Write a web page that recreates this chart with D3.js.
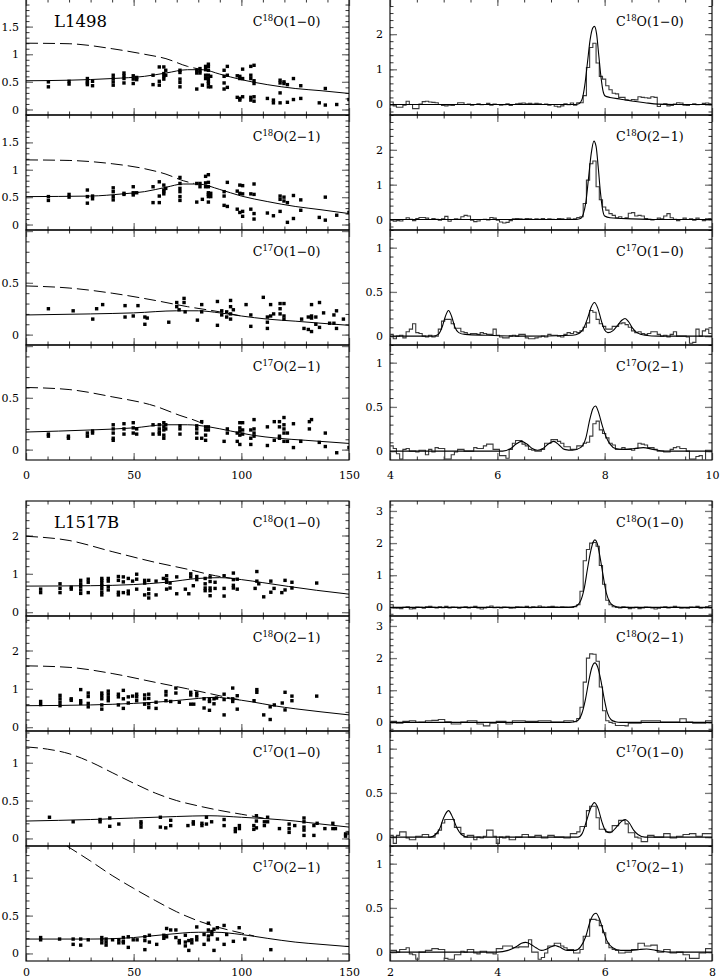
<!DOCTYPE html>
<html><head><meta charset="utf-8">
<script src="https://cdn.jsdelivr.net/npm/d3@7"></script>
<style>
body{margin:0;background:#fff}
svg{display:block}
text{font-family:"DejaVu Serif",serif;fill:#000}
</style></head><body>
<svg id="c" width="721" height="980"></svg>
<script>
// ---------------- DATA ----------------
// radial offset (arcsec) vs integrated intensity (K km/s)
const L1498_C18O10_obs = [[10.4,0.50],[10.4,0.41],[20,0.51],[20,0.46],[28.5,0.56],[28.5,0.51],[28.5,0.48],[28.5,0.45],[30.9,0.51],[30.9,0.43],
[40.5,0.62],[40.5,0.56],[40.5,0.50],[40.5,0.44],[45.5,0.66],[45.5,0.61],[45.5,0.56],[45.5,0.48],[49.8,0.61],[49.8,0.55],[49.8,0.47],[51.4,0.58],[51.4,0.54],
[59,0.62],[59,0.45],[61.9,0.77],[61.9,0.51],[61.9,0.44],[64,0.77],[64,0.65],[64,0.60],[64,0.55],[64.9,0.71],[64.9,0.62],
[71.5,0.71],[71.5,0.67],[71.5,0.55],[71.5,0.49],[71.5,0.41],[79.3,0.71],[79.3,0.66],[79.3,0.37],[80.8,0.74],[80.8,0.70],[80.8,0.66],[81.9,0.44],
[83.4,0.78],[83.4,0.72],[83.4,0.62],[83.4,0.56],[84.7,0.82],[84.7,0.78],[84.7,0.71],[84.7,0.62],[84.7,0.56],[84.7,0.51],[84.7,0.47],[84.7,0.41],[85.8,0.60],[85.8,0.41],
[92,0.71],[92,0.60],[92,0.48],[92,0.37],[93.5,0.78],[93.5,0.62],[93.5,0.40],[98.1,0.61],[98.1,0.22],[99.3,0.60],[99.3,0.56],[99.3,0.20],[99.3,0.17],[100.6,0.73],[100.6,0.56],[100.6,0.23],
[104.4,0.78],[104.4,0.62],[104.4,0.56],[104.4,0.22],[104.4,0.17],[105.9,0.80],[105.9,0.52],[105.9,0.47],[105.9,0.23],[105.9,0.15],
[112.1,0.20],[114.9,0.17],[114.9,0.12],[118,0.53],[118,0.48],[118,0.30],[118,0.12],[119.8,0.50],[119.8,0.47],[121.4,0.45],[121.4,0.13],
[124.2,0.56],[124.2,0.18],[127.6,0.43],[127.6,0.20],[136.2,0.12],[139,0.38],[139,0.08],[144.3,0.09],[150,0.18]];
const L1498_C18O10_fit = [[0,0.52],[20,0.53],[40,0.56],[55,0.60],[65,0.66],[75,0.72],[82,0.72],[90,0.64],[100,0.54],[112,0.45],[125,0.38],[137,0.34],[150,0.29]];
const L1498_C18O10_dash = [[0,1.2],[20,1.19],[40,1.1],[55,1.0],[65,0.92],[75,0.78],[82,0.72]];

const L1498_C18O21_obs = [[10.4,0.51],[10.4,0.44],[20,0.55],[20,0.50],[28.5,0.63],[28.5,0.51],[28.5,0.39],[30.9,0.52],[30.9,0.47],
[40.5,0.67],[40.5,0.60],[40.5,0.51],[40.5,0.45],[45.5,0.57],[45.5,0.55],[49.8,0.69],[49.8,0.58],[49.8,0.54],[51.4,0.58],
[59,0.69],[59,0.40],[61.9,0.78],[61.9,0.52],[61.9,0.40],[64,0.72],[64,0.63],[64,0.60],[64,0.56],[64.9,0.66],
[71.5,0.86],[71.5,0.75],[71.5,0.66],[71.5,0.60],[71.5,0.51],[71.5,0.44],[79.3,0.75],[79.3,0.41],[80.8,0.75],[80.8,0.69],[81.9,0.46],
[83.4,0.88],[83.4,0.76],[83.4,0.69],[84.7,0.91],[84.7,0.77],[84.7,0.69],[84.7,0.58],[84.7,0.55],[84.7,0.51],[84.7,0.41],[85.8,0.57],[85.8,0.51],
[92,0.60],[92,0.52],[92,0.35],[93.5,0.77],[93.5,0.33],[98.1,0.61],[98.1,0.28],[99.3,0.72],[99.3,0.57],[99.3,0.22],[100.6,0.71],[100.6,0.56],[100.6,0.24],[100.6,0.15],
[104.4,0.56],[104.4,0.28],[105.9,0.74],[105.9,0.55],[105.9,0.20],[105.9,0.10],
[112.1,0.21],[114.9,0.16],[118,0.52],[118,0.46],[118,0.24],[119.8,0.50],[119.8,0.43],[121.4,0.40],[121.4,0.04],
[124.2,0.53],[124.2,0.11],[127.6,0.26],[127.6,0.45],[136.2,0.13],[139,0.50],[139,0.08],[144.3,0.17],[150,0.22]];
const L1498_C18O21_fit = [[0,0.51],[30,0.52],[45,0.56],[55,0.60],[65,0.68],[73,0.74],[80,0.74],[90,0.64],[100,0.52],[112,0.42],[125,0.33],[137,0.27],[150,0.20]];
const L1498_C18O21_dash = [[0,1.18],[20,1.17],[40,1.11],[55,1.02],[65,0.92],[73,0.80],[78,0.75]];

const L1498_C17O10_obs = [[10.4,0.25],[21.9,0.23],[31,0.15],[32.8,0.25],[35.6,0.29],[46,0.28],[46,0.17],[49.8,0.18],[52,0.28],[55.2,0.17],[55.2,0.10],[56.3,0.16],
[66.3,0.12],[70,0.27],[70,0.31],[71.1,0.24],[73.4,0.31],[73.4,0.35],[73.9,0.22],[79.6,0.14],[81.6,0.29],[81.6,0.22],
[88.9,0.32],[88.9,0.09],[90.9,0.23],[90.9,0.19],[93.2,0.17],[93.2,0.22],[95,0.33],[95,0.27],[95,0.15],[95,0.20],[96.3,0.24],
[102.2,0.29],[104.4,0.08],[104.4,0.19],[110.2,0.36],[112.1,0.17],[112.1,0.06],[112.1,0.12],[113.6,0.29],[113.6,0.18],[115,0.20],
[118,0.25],[118,0.30],[118,0.20],[119.8,0.30],[119.8,0.18],[119.8,0.15],[128,0.15],[129.1,0.06],[131.1,0.05],[131.1,0.17],
[132.6,0.29],[132.6,0.18],[132.6,0.16],[132.6,0.03],[134.6,0.17],[134.6,0.10],[136.3,0.07],[136.3,0.31],[138.2,0.21],
[141,0.11],[143,0.19],[143,0.11],[144.2,0.23],[144.2,0.06],[147.4,0.15]];
const L1498_C17O10_fit = [[0,0.19],[30,0.20],[50,0.21],[70,0.23],[80,0.23],[90,0.21],[100,0.18],[112,0.15],[125,0.13],[137,0.11],[150,0.09]];
const L1498_C17O10_dash = [[0,0.47],[20,0.45],[40,0.40],[60,0.33],[75,0.27],[90,0.22],[100,0.18]];

const L1498_C17O21_obs = [[10.4,0.15],[10.4,0.13],[19.7,0.13],[19.7,0.11],[28.5,0.16],[28.5,0.13],[30.9,0.18],[30.9,0.16],
[40.5,0.24],[40.5,0.20],[40.5,0.16],[40.5,0.11],[40.5,0.09],[45.5,0.25],[45.5,0.20],[45.5,0.15],[49.8,0.26],[49.8,0.21],[49.8,0.16],[51.4,0.20],[51.4,0.15],
[59,0.24],[59,0.15],[61.9,0.24],[61.9,0.20],[61.9,0.17],[61.9,0.15],[64,0.26],[64,0.22],[64,0.19],[64,0.14],[64,0.11],[64.9,0.24],[64.9,0.20],
[71.5,0.23],[71.5,0.20],[71.5,0.15],[79.3,0.23],[79.3,0.20],[79.3,0.16],[79.3,0.11],[81.6,0.27],[81.6,0.11],
[83.4,0.22],[83.4,0.19],[83.4,0.14],[83.4,0.09],[84.7,0.22],[84.7,0.19],[92,0.08],[93.5,0.20],[93.5,0.16],
[98.1,0.16],[98.1,0.08],[99.3,0.26],[99.3,0.21],[99.3,0.18],[99.3,0.14],[99.3,0.05],[100.6,0.26],[100.6,0.19],[100.6,0.15],
[104.4,0.19],[104.4,0.11],[104.4,0.05],[105.9,0.29],[105.9,0.20],[105.9,0.16],[105.9,0.13],
[112.1,0.22],[112.1,0.04],[115.3,0.27],[115.3,0.09],[117.7,0.27],[117.7,0.22],[117.7,0.13],[117.7,0.11],
[119.8,0.31],[119.8,0.24],[119.8,0.20],[119.8,0.16],[119.8,0.08],[121.4,0.16],[121.4,0.08],[124.2,0.25],[124.2,0.02],
[127.6,0.08],[131.6,0.27],[131.6,0.20],[132.6,0.29],[136.2,0.07],[139,0.16],[139,0.03],[144.3,-0.03],[150,0.02]];
const L1498_C17O21_fit = [[0,0.17],[30,0.19],[50,0.21],[65,0.24],[75,0.24],[85,0.22],[95,0.18],[105,0.14],[117,0.11],[130,0.09],[150,0.06]];
const L1498_C17O21_dash = [[0,0.60],[20,0.58],[40,0.51],[60,0.42],[71.5,0.33],[80,0.27],[85,0.22]];

const L1517B_C18O10_obs = [[6.8,0.60],[6.8,0.51],[15.8,0.74],[15.8,0.62],[15.8,0.51],[21,0.65],[21,0.60],[25.4,0.83],[25.4,0.74],[25.4,0.67],[25.4,0.58],[25.4,0.49],
[28.9,0.86],[28.9,0.78],[28.9,0.51],[35.2,0.88],[35.2,0.83],[35.2,0.76],[35.2,0.69],[35.2,0.61],[35.2,0.52],[35.2,0.45],
[38.2,0.88],[38.2,0.81],[38.2,0.67],[38.2,0.58],[42.9,0.93],[42.9,0.83],[42.9,0.52],[42.9,0.45],[45.2,0.92],[45.2,0.79],[45.2,0.51],
[47.5,0.88],[47.5,0.55],[47.5,0.48],[49.5,0.81],[51.4,0.99],[51.4,0.86],[51.4,0.60],[55.1,0.83],[55.1,0.76],[55.1,0.45],
[57,0.83],[57,0.60],[57,0.48],[57,0.37],[60.4,0.81],[60.4,0.45],[63.8,0.88],[65.3,0.95],[65.3,0.85],[65.3,0.78],[65.3,0.60],
[66.9,0.76],[66.9,0.63],[70,0.92],[70,0.48],[74,0.60],[75.6,0.48],[76.5,1.00],[76.5,0.92],[77.7,0.69],[79.3,0.93],[79.3,0.85],
[83.2,0.88],[83.2,0.74],[83.2,0.63],[83.2,0.56],[85.5,0.92],[85.5,0.80],[85.5,0.63],[85.5,0.56],[85.5,0.43],[87.8,0.78],[87.8,0.62],
[92,0.95],[92,0.62],[92,0.42],[96.3,1.02],[96.3,0.85],[96.3,0.70],[96.3,0.63],[98.1,0.86],[98.1,0.60],
[106.4,0.62],[107.2,1.06],[107.2,0.81],[108.1,0.74],[110.4,0.40],[113.7,0.81],[113.7,0.52],[115.2,0.62],[118.8,0.51],
[120.3,0.83],[120.3,0.58],[123.5,0.78],[123.5,0.63],[135,0.76]];
const L1517B_C18O10_fit = [[0,0.68],[30,0.69],[50,0.72],[65,0.78],[80,0.88],[90,0.90],[100,0.85],[110,0.77],[122,0.67],[135,0.57],[150,0.47]];
const L1517B_C18O10_dash = [[0,1.98],[20,1.87],[40,1.58],[60,1.30],[75,1.12],[88,0.95],[96,0.88]];

const L1517B_C18O21_obs = [[6.8,0.67],[6.8,0.59],[15.8,0.83],[15.8,0.74],[15.8,0.65],[15.8,0.56],[21,0.74],[21,0.70],[25.4,0.98],[25.4,0.69],[25.4,0.62],
[28.9,0.89],[28.9,0.80],[28.9,0.62],[28.9,0.53],[35.2,0.89],[35.2,0.82],[35.2,0.74],[35.2,0.58],[35.2,0.47],
[38.2,0.94],[38.2,0.86],[38.2,0.77],[38.2,0.69],[42.9,0.86],[42.9,0.79],[42.9,0.58],[45.2,0.96],[45.2,0.74],[45.2,0.49],
[47.5,0.79],[47.5,0.63],[49.5,0.81],[51.4,0.86],[51.4,0.79],[51.4,0.69],[55.1,0.84],[55.1,0.74],[55.1,0.60],
[57,0.86],[57,0.75],[57,0.61],[57,0.51],[60.4,0.65],[60.4,0.49],[65,0.93],[65,0.84],[65,0.69],[67.2,0.67],[69.6,1.02],[69.6,0.89],[71.2,0.65],
[76.5,0.91],[76.5,0.84],[76.5,0.60],[77.9,0.60],[79.3,0.89],[79.3,0.82],[82.7,0.74],[82.7,0.50],[85.2,0.72],[85.2,0.67],[85.2,0.44],
[87.3,0.74],[87.3,0.61],[88.5,0.76],[92,0.86],[92,0.72],[92,0.32],[96,1.02],[96,0.74],[96,0.67],[98.1,0.82],[98.1,0.47],
[105.9,0.69],[107.2,0.98],[107.2,0.91],[110.4,0.32],[113.4,0.53],[113.4,0.20],[115.3,0.58],[119,0.63],[120.3,0.91],[120.3,0.45],
[123.5,0.81],[123.5,0.69],[135,0.81]];
const L1517B_C18O21_fit = [[0,0.56],[30,0.58],[50,0.62],[65,0.67],[80,0.75],[88,0.78],[95,0.74],[105,0.66],[115,0.56],[125,0.48],[137,0.40],[150,0.32]];
const L1517B_C18O21_dash = [[0,1.60],[20,1.56],[40,1.40],[60,1.17],[75,1.0],[85,0.88],[95,0.76],[100,0.71]];

const L1517B_C17O10_obs = [[10.9,0.28],[21.9,0.22],[34.4,0.25],[34.4,0.22],[38.9,0.27],[38.9,0.16],[43.1,0.19],[53.4,0.22],[53.4,0.19],[53.4,0.15],
[62.4,0.28],[62.4,0.15],[64.9,0.14],[67.2,0.24],[67.2,0.17],[75.2,0.17],[77.7,0.22],[77.7,0.19],[81.7,0.20],[81.7,0.17],
[83.8,0.28],[83.8,0.19],[86.2,0.22],[92,0.25],[92,0.17],[97.2,0.13],[97.2,0.09],[99.1,0.17],[99.1,0.13],
[105.8,0.17],[105.8,0.12],[107,0.30],[107,0.23],[107,0.14],[110.7,0.22],[110.7,0.17],[112.2,0.28],[112.2,0.22],
[117.7,0.13],[122.2,0.19],[122.2,0.13],[122.2,0.08],[124.8,0.17],[129.1,0.27],[129.1,0.22],[129.1,0.15],[129.1,0.11],[129.1,0.04],
[133.7,0.17],[133.7,0.04],[135.2,0.20],[138.8,0.13],[142.5,0.20],[142.5,0.13],[143.7,0.13],[148.4,0.06],[148.4,0.03],[150,0.07]];
const L1517B_C17O10_fit = [[0,0.23],[30,0.25],[50,0.27],[70,0.29],[85,0.30],[100,0.28],[112,0.26],[125,0.23],[137,0.19],[150,0.15]];
const L1517B_C17O10_dash = [[0,1.21],[10,1.18],[20,1.12],[30,1.01],[40,0.87],[50,0.73],[60,0.60],[70,0.50],[80,0.43],[90,0.37],[100,0.32],[106,0.29],[112,0.26]];

const L1517B_C17O21_obs = [[6.8,0.21],[6.8,0.18],[15.6,0.19],[21.9,0.19],[21.9,0.12],[25.4,0.19],[25.4,0.11],[28.9,0.18],[35.2,0.21],[35.2,0.18],[35.2,0.14],
[37.2,0.19],[37.2,0.15],[37.2,0.11],[40.2,0.18],[43.1,0.18],[43.1,0.14],[45.2,0.21],[45.2,0.16],[45.2,0.14],[47.5,0.22],[47.5,0.08],
[49.8,0.18],[51.6,0.18],[55.2,0.22],[55.2,0.17],[55.2,0.05],[57.3,0.24],[57.3,0.15],[60.7,0.12],[64,0.24],[64,0.20],[65.3,0.33],[65.3,0.22],
[67.2,0.31],[69.6,0.31],[69.6,0.21],[71.2,0.14],[71.2,0.17],[74,0.24],[74,0.15],[74,0.10],[75.6,0.17],[75.6,0.04],[77,0.18],[77,0.14],
[79.3,0.35],[79.3,0.22],[79.3,0.18],[82.7,0.25],[82.7,0.12],[84.7,0.40],[84.7,0.31],[84.7,0.23],[84.7,0.18],[86.3,0.29],[86.3,0.25],
[87.3,0.32],[87.3,0.04],[88.9,0.19],[88.9,0.34],[92,0.37],[92,0.12],[93.2,0.25],[96.3,0.16],[99,0.34],[101.6,0.19],[113.7,0.31],[113.7,0.05]];
const L1517B_C17O21_fit = [[0,0.19],[30,0.19],[50,0.21],[65,0.25],[80,0.28],[88,0.28],[100,0.25],[112,0.20],[125,0.15],[137,0.12],[150,0.09]];
const L1517B_C17O21_dash = [[19,1.42],[30,1.22],[40,1.03],[50,0.86],[60,0.70],[70,0.55],[80,0.43],[90,0.34],[100,0.27],[106,0.23]];

// spectra: channel values (K), channel width 0.06 km/s
const L1498_C18O10_spec = [0.07,-0.04,-0.08,-0.08,-0.02,0.09,0.0,-0.12,-0.12,0.01,
0.08,0.09,0.07,0.06,0.05,0.0,-0.03,-0.04,-0.02,-0.03,
0.0,0.05,0.05,0.0,0.01,-0.02,0.0,0.02,-0.01,0.0,
0.03,-0.02,0.01,0.0,-0.02,-0.01,0.02,-0.03,0.0,0.02,
0.03,0.04,0.02,0.03,0.01,0.03,0.02,0.0,0.01,-0.02,
0.0,-0.05,-0.07,-0.04,0.02,-0.01,0.04,-0.02,0.05,0.05,
0.25,1.05,1.62,1.74,1.18,0.8,0.72,0.53,0.42,0.32,
0.3,0.2,0.2,0.13,0.12,0.14,0.13,0.22,0.2,0.19,
0.18,0.22,0.2,-0.06,0.0,0.02,-0.04,-0.03,0.01,0.05,
0.04,-0.02,-0.03,0.0,0.02,-0.01,0.0,0.03,0.04,0.02];
const L1498_C18O10_model = [[4,0],[7.45,0],[7.52,0.02],[7.58,0.15],[7.63,0.55],[7.68,1.2],[7.73,1.85],[7.78,2.18],[7.81,2.22],[7.85,2.0],[7.89,1.4],[7.93,0.8],[7.97,0.38],[8.01,0.24],[8.1,0.2],[8.3,0.15],[8.5,0.1],[8.75,0.05],[9.0,0.01],[9.3,0],[10,0]];

const L1498_C18O21_spec = [-0.02,-0.05,-0.03,-0.04,0.0,0.05,0.01,-0.03,0.03,0.06,
0.06,0.04,0.0,0.03,0.01,-0.02,0.02,0.09,-0.05,0.0,
0.02,0.01,0.08,0.12,0.10,-0.02,-0.06,-0.04,0.0,0.01,
-0.01,0.06,0.04,-0.02,-0.07,-0.1,-0.08,-0.03,0.02,0.03,
0.02,0.01,0.03,0.02,0.0,0.02,0.01,0.03,0.0,0.02,
0.01,0.0,0.03,0.02,0.0,0.04,0.01,0.02,0.06,0.08,
0.46,1.13,1.6,1.68,0.94,0.57,0.36,0.27,0.17,0.12,
0.05,0.08,0.03,0.05,0.18,0.2,0.1,0.12,0.1,0.03,
0.01,-0.01,0.0,0.04,0.02,0.1,0.17,0.05,0.01,-0.03,
0.0,0.04,0.0,0.02,-0.02,0.04,0.0,-0.03,0.02,0.03];
const L1498_C18O21_model = [[4,0],[7.45,0],[7.55,0.03],[7.6,0.15],[7.65,0.5],[7.7,1.2],[7.75,1.9],[7.8,2.25],[7.84,2.1],[7.88,1.5],[7.92,0.8],[7.96,0.3],[8.0,0.1],[8.1,0.05],[8.5,0.02],[9.0,0],[10,0]];

const L1498_C17O10_spec = [0.02,-0.03,0.0,0.01,-0.02,0.05,0.08,0.14,0.04,0.03,
0.0,-0.01,0.01,-0.01,0.0,0.08,0.17,0.19,0.19,0.14,
0.09,0.09,0.05,0.04,0.02,0.03,0.03,0.02,0.04,0.03,
0.02,0.02,0.08,0.01,-0.01,-0.02,-0.02,0.0,0.01,0.0,
0.02,0.02,-0.02,-0.03,-0.03,-0.02,-0.01,0.0,-0.01,0.02,
0.01,0.01,0.0,-0.01,0.02,0.04,0.03,0.05,0.04,0.06,
0.1,0.15,0.29,0.27,0.19,0.14,0.11,0.08,0.08,0.11,
0.11,0.14,0.15,0.13,0.1,0.06,0.04,0.05,0.03,0.02,
0.03,0.05,0.05,0.02,0.0,0.01,-0.01,0.02,0.05,0.0,
0.0,0.0,-0.01,-0.08,-0.07,0.08,0.0,0.06,0.08,0.03];
const L1498_C17O10_model = [[4,0],[4.8,0],[4.9,0.02],[4.97,0.1],[5.03,0.22],[5.09,0.29],[5.15,0.22],[5.21,0.1],[5.28,0.04],[5.4,0.02],[5.8,0.01],[6.5,0],[7.4,0.01],[7.52,0.03],[7.6,0.08],[7.68,0.2],[7.75,0.33],[7.81,0.38],[7.87,0.32],[7.94,0.17],[8.0,0.07],[8.06,0.04],[8.15,0.06],[8.25,0.13],[8.32,0.18],[8.38,0.2],[8.45,0.16],[8.52,0.09],[8.6,0.04],[8.75,0.01],[9,0],[10,0]];

const L1498_C17O21_spec = [0.06,0.03,-0.03,-0.09,0.02,0.03,0.0,0.0,-0.01,0.01,
0.01,-0.04,0.02,-0.01,0.04,0.03,0.03,-0.09,-0.09,-0.04,
-0.01,0.02,0.02,0.0,0.0,0.0,0.04,0.03,0.03,0.06,
0.08,0.08,0.02,0.02,-0.05,-0.05,-0.08,0.02,0.09,0.12,
0.12,0.08,0.06,0.02,0.01,0.0,0.0,0.02,0.09,0.09,
0.13,0.13,0.11,0.09,0.05,0.05,0.02,0.02,0.06,0.06,
0.09,0.1,0.17,0.31,0.34,0.24,0.2,0.15,0.09,0.07,
0.02,0.02,0.04,0.02,0.02,0.01,0.03,0.09,0.08,0.07,
0.04,0.04,0.02,0.0,0.0,-0.01,-0.01,0.02,0.04,0.05,
0.03,0.03,0.0,-0.09,-0.09,-0.06,-0.05,-0.13,0.01,0.01];
const L1498_C17O21_model = [[4,0],[6.1,0],[6.25,0.03],[6.35,0.08],[6.45,0.11],[6.55,0.08],[6.65,0.03],[6.75,0.01],[6.85,0.03],[6.95,0.08],[7.05,0.11],[7.15,0.07],[7.25,0.02],[7.4,0.01],[7.55,0.04],[7.65,0.15],[7.72,0.35],[7.78,0.48],[7.83,0.51],[7.88,0.45],[7.95,0.3],[8.02,0.17],[8.1,0.08],[8.2,0.03],[8.35,0.02],[8.55,0.03],[8.72,0.04],[8.9,0.02],[9.1,0],[10,0]];

const L1517B_C18O10_spec = [0.08,-0.02,-0.03,-0.04,0.0,0.02,-0.05,-0.04,0.01,0.0,
-0.03,0.02,0.03,0.0,-0.02,0.02,-0.01,0.03,-0.02,0.01,
0.0,-0.03,0.0,0.02,-0.02,0.0,0.03,-0.02,-0.05,-0.02,
0.01,0.04,-0.01,0.0,-0.02,0.01,0.0,-0.03,-0.02,0.02,
0.01,0.0,0.03,-0.01,0.02,0.0,0.04,0.01,0.0,0.02,
0.03,0.01,0.0,0.02,0.01,0.0,0.0,0.02,0.08,0.5,
1.45,1.8,2.0,2.02,1.9,1.3,0.72,0.22,0.08,0.02,
0.0,-0.02,0.02,0.0,-0.04,-0.02,0.0,-0.04,-0.02,0.01,
0.0,-0.02,-0.05,-0.03,0.0,0.02,-0.02,0.0,0.03,0.0,
-0.03,-0.02,-0.03,0.01,0.0,0.03,-0.03,-0.01,0.02,0.05];
const L1517B_C18O10_model = [[2,0],[5.3,0],[5.45,0.03],[5.55,0.2],[5.62,0.6],[5.68,1.2],[5.74,1.75],[5.79,2.05],[5.82,2.1],[5.86,2.0],[5.91,1.6],[5.97,1.0],[6.03,0.45],[6.1,0.15],[6.18,0.04],[6.3,0],[8,0]];

const L1517B_C18O21_spec = [0.03,0.03,-0.03,-0.03,0.03,0.03,0.05,0.05,0.0,0.01,
0.01,0.05,0.05,0.06,0.06,0.09,0.09,0.02,0.02,-0.05,
-0.05,-0.05,0.01,0.01,0.05,0.05,0.05,-0.05,-0.05,-0.11,
-0.11,-0.03,-0.03,0.03,0.03,0.03,-0.05,-0.05,0.05,0.05,
0.05,0.05,0.03,0.03,0.03,0.03,0.05,0.05,0.05,0.05,
0.01,0.01,0.01,0.01,0.05,0.05,0.05,0.02,0.12,0.47,
1.25,2.0,2.13,2.12,1.9,1.1,0.36,0.05,0.0,-0.03,
-0.1,-0.1,-0.1,-0.11,-0.03,-0.03,-0.03,-0.03,0.05,0.05,
0.05,0.05,0.05,0.05,0.01,0.01,0.01,0.01,0.01,0.01,
0.11,0.11,0.01,0.01,-0.03,-0.03,-0.03,-0.03,0.05,0.05];
const L1517B_C18O21_model = [[2,0],[5.35,0],[5.48,0.04],[5.57,0.25],[5.64,0.7],[5.7,1.25],[5.76,1.7],[5.82,1.85],[5.87,1.72],[5.93,1.3],[5.99,0.75],[6.05,0.3],[6.12,0.08],[6.2,0.02],[6.3,0],[8,0]];

const L1517B_C17O10_spec = [0.02,-0.07,0.02,0.06,0.06,-0.01,-0.03,-0.03,0.01,0.01,
0.03,0.03,0.0,0.0,0.04,0.08,0.16,0.2,0.2,0.2,
0.11,0.11,0.04,0.0,0.02,0.02,-0.03,0.0,-0.01,0.01,
0.08,0.08,0.01,-0.07,0.0,-0.01,0.01,-0.03,-0.03,0.0,
0.0,0.03,0.03,0.0,0.0,0.02,0.02,-0.01,-0.01,0.02,
0.02,0.0,0.0,0.0,-0.01,-0.01,0.04,0.04,0.06,0.12,
0.12,0.3,0.35,0.35,0.22,0.09,0.09,0.06,0.06,0.13,
0.13,0.19,0.19,0.15,0.05,0.05,0.0,-0.01,-0.05,-0.05,
0.02,0.02,0.0,0.0,0.0,0.04,0.04,-0.01,-0.01,0.01,
0.01,0.03,0.03,0.04,0.04,0.01,0.01,0.04,0.04,0.04];
const L1517B_C17O10_model = [[2,0],[2.75,0],[2.85,0.03],[2.93,0.1],[3.0,0.22],[3.09,0.3],[3.17,0.22],[3.25,0.1],[3.33,0.03],[3.45,0],[5.5,0],[5.58,0.04],[5.66,0.18],[5.74,0.33],[5.81,0.39],[5.88,0.32],[5.95,0.17],[6.02,0.07],[6.1,0.05],[6.2,0.1],[6.3,0.17],[6.38,0.2],[6.46,0.16],[6.54,0.08],[6.62,0.03],[6.75,0],[8,0]];

const L1517B_C17O21_spec = [0.02,0.02,0.0,0.03,0.03,0.05,-0.02,-0.03,-0.08,0.0,
0.0,0.02,0.02,0.04,0.04,0.03,0.03,-0.07,-0.08,-0.08,
-0.03,-0.03,0.01,0.0,0.03,0.03,-0.01,-0.02,0.01,0.01,
-0.01,-0.01,-0.02,0.04,0.04,0.07,0.07,0.07,0.05,0.05,
0.06,0.06,0.06,0.14,0.0,0.0,-0.08,-0.06,-0.01,0.07,
0.07,0.1,0.1,0.07,0.05,0.03,0.03,-0.01,-0.01,0.03,
0.18,0.18,0.37,0.37,0.36,0.3,0.22,0.1,0.05,0.03,
0.02,-0.01,-0.01,0.0,0.0,0.03,0.03,0.1,0.1,0.07,
0.07,0.08,0.08,0.0,0.0,0.03,0.03,-0.01,-0.01,0.0,
0.0,-0.03,-0.03,-0.07,-0.07,-0.07,-0.01,-0.01,0.04,0.04];
const L1517B_C17O21_model = [[2,0],[4.0,0],[4.2,0.02],[4.35,0.06],[4.45,0.1],[4.53,0.11],[4.62,0.09],[4.72,0.05],[4.82,0.02],[4.9,0.03],[5.0,0.06],[5.07,0.075],[5.15,0.06],[5.3,0.02],[5.45,0.02],[5.55,0.06],[5.65,0.18],[5.73,0.35],[5.8,0.43],[5.84,0.44],[5.9,0.38],[5.97,0.25],[6.05,0.12],[6.15,0.05],[6.3,0.02],[6.5,0.02],[6.65,0.03],[6.78,0.035],[6.95,0.02],[7.2,0],[8,0]];

// axis tick labels
const xLabelsLeft = [0, 50, 100, 150];
const xLabelsRightTop = [4, 6, 8, 10];
const xLabelsRightBot = [2, 4, 6, 8];

// ---------------- DRAWING ----------------
const svg = d3.select("#c");
const defs = svg.append("defs");
let clipN = 0;
const XL = [26, 349], XR = [390, 712];
const topRows = [-1, 115, 230, 345, 460];
const botRows = [501, 616, 731, 846, 961];

function panel(o) {
  const x = d3.scaleLinear().domain(o.xdom).range([o.x0, o.x1]);
  const y = d3.scaleLinear().domain(o.ydom).range([o.y1, o.y0]);
  const g = svg.append("g");
  const id = "cp" + (clipN++);
  defs.append("clipPath").attr("id", id).append("rect")
    .attr("x", o.x0).attr("y", o.y0).attr("width", o.x1 - o.x0).attr("height", o.y1 - o.y0);
  const tick = (axis, tr, vals, size, col, w) => {
    g.append("g").attr("transform", tr)
      .call(axis.tickValues(vals).tickSize(-size).tickFormat(""))
      .call(a => a.select(".domain").remove())
      .call(a => a.selectAll("line").attr("stroke", col).attr("stroke-width", w));
  };
  const xMin = d3.range(o.xdom[0], o.xdom[1] + 1e-9, o.xMinor);
  const yMin = d3.range(o.yMinorStart, o.ydom[1] + 1e-9, o.yMinor);
  tick(d3.axisBottom(x), `translate(0,${o.y1})`, xMin, 3.5, "#000", 0.8);
  tick(d3.axisTop(x), `translate(0,${o.y0})`, xMin, 3.5, "#000", 0.8);
  tick(d3.axisLeft(y), `translate(${o.x0},0)`, yMin, 3.5, "#000", 0.8);
  tick(d3.axisRight(y), `translate(${o.x1},0)`, yMin, 3.5, "#000", 0.8);
  tick(d3.axisBottom(x), `translate(0,${o.y1})`, o.xMajor, 7, "#777", 1.3);
  tick(d3.axisTop(x), `translate(0,${o.y0})`, o.xMajor, 7, "#777", 1.3);
  tick(d3.axisLeft(y), `translate(${o.x0},0)`, o.yMajor, 7, "#777", 1.3);
  tick(d3.axisRight(y), `translate(${o.x1},0)`, o.yMajor, 7, "#777", 1.3);
  g.append("g").attr("transform", `translate(${o.x0},0)`)
    .call(d3.axisLeft(y).tickValues(o.yLab).tickSize(0).tickPadding(7).tickFormat(d => String(d)))
    .call(a => a.select(".domain").remove())
    .call(a => a.selectAll("text").attr("font-family", "DejaVu Serif").attr("font-size", 11).attr("fill", "#000"));
  if (o.xLab) {
    g.append("g").attr("transform", `translate(0,${o.y1})`)
      .call(d3.axisBottom(x).tickValues(o.xLab).tickSize(0).tickPadding(o.xPad).tickFormat(d => String(d)))
      .call(a => a.select(".domain").remove())
      .call(a => a.selectAll("text").attr("font-family", "DejaVu Serif").attr("font-size", 11).attr("fill", "#000"));
  }
  g.append("rect").attr("x", o.x0).attr("y", o.y0).attr("width", o.x1 - o.x0).attr("height", o.y1 - o.y0)
    .attr("fill", "none").attr("stroke", "#000").attr("stroke-width", 1.1);
  const plot = g.append("g").attr("clip-path", `url(#${id})`);
  const base = o.y1 - 115;
  const lx = o.x0 + (o.x1 - o.x0) * 0.702;
  const t = g.append("text").attr("x", lx).attr("y", base + 26).attr("font-size", 12.7);
  t.append("tspan").text("C");
  t.append("tspan").attr("dy", -5).attr("font-size", 8.5).text(o.iso);
  t.append("tspan").attr("dy", 5).text("O(" + o.trans + ")");
  if (o.name) g.append("text").attr("x", o.x0 + 28).attr("y", base + 26.5).attr("font-size", 16.5).text(o.name);
  return { x, y, plot };
}

function leftPanel(o, obs, fit, dash) {
  const p = panel(Object.assign({ x0: XL[0], x1: XL[1], xdom: [0, 150], xMinor: 10, xMajor: [0, 50, 100, 150], xPad: 0 }, o));
  const line = d3.line().x(d => p.x(d[0])).y(d => p.y(d[1])).curve(d3.curveMonotoneX);
  p.plot.append("path").attr("d", line(dash)).attr("fill", "none").attr("stroke", "#000").attr("stroke-width", 1).attr("stroke-dasharray", "12,5");
  p.plot.append("path").attr("d", line(fit)).attr("fill", "none").attr("stroke", "#000").attr("stroke-width", 1);
  p.plot.selectAll("rect.pt").data(obs).enter().append("rect").attr("class", "pt")
    .attr("x", d => p.x(d[0]) - 1.7).attr("y", d => p.y(d[1]) - 1.7).attr("width", 3.4).attr("height", 3.4).attr("fill", "#000");
}

function rightPanel(o, spec, model, v0) {
  const p = panel(Object.assign({ x0: XR[0], x1: XR[1], xdom: [v0, v0 + 6], xMinor: 0.5, xMajor: [v0, v0 + 2, v0 + 4, v0 + 6] }, o));
  const dv = 0.06;
  const pts = spec.map((v, i) => [v0 + i * dv, v]);
  pts.push([v0 + spec.length * dv, spec[spec.length - 1]]);
  const step = d3.line().x(d => p.x(d[0])).y(d => p.y(d[1])).curve(d3.curveStepAfter);
  p.plot.append("path").attr("d", step(pts)).attr("fill", "none").attr("stroke", "#3a3a3a").attr("stroke-width", 1.1);
  const line = d3.line().x(d => p.x(d[0])).y(d => p.y(d[1])).curve(d3.curveMonotoneX);
  p.plot.append("path").attr("d", line(model)).attr("fill", "none").attr("stroke", "#000").attr("stroke-width", 1.1);
}

// ---- top group: L1498 ----
leftPanel({ y0: topRows[0], y1: topRows[1], ydom: [-0.1, 2.0], yMinor: 0.1, yMinorStart: 0, yMajor: [0, 0.5, 1, 1.5], yLab: [0, 0.5, 1, 1.5], iso: "18", trans: "1−0", name: "L1498" },
  L1498_C18O10_obs, L1498_C18O10_fit, L1498_C18O10_dash);
leftPanel({ y0: topRows[1], y1: topRows[2], ydom: [-0.1, 2.0], yMinor: 0.1, yMinorStart: 0, yMajor: [0, 0.5, 1, 1.5], yLab: [0, 0.5, 1, 1.5], iso: "18", trans: "2−1" },
  L1498_C18O21_obs, L1498_C18O21_fit, L1498_C18O21_dash);
leftPanel({ y0: topRows[2], y1: topRows[3], ydom: [-0.1, 1.01], yMinor: 0.1, yMinorStart: 0, yMajor: [0, 0.5, 1], yLab: [0, 0.5], iso: "17", trans: "1−0" },
  L1498_C17O10_obs, L1498_C17O10_fit, L1498_C17O10_dash);
leftPanel({ y0: topRows[3], y1: topRows[4], ydom: [-0.1, 1.01], yMinor: 0.1, yMinorStart: 0, yMajor: [0, 0.5, 1], yLab: [0, 0.5], iso: "17", trans: "2−1", xLab: xLabelsLeft, xPad: 11 },
  L1498_C17O21_obs, L1498_C17O21_fit, L1498_C17O21_dash);

rightPanel({ y0: topRows[0], y1: topRows[1], ydom: [-0.3, 3.0], yMinor: 0.2, yMinorStart: -0.2, yMajor: [0, 1, 2], yLab: [0, 1, 2], iso: "18", trans: "1−0" }, L1498_C18O10_spec, L1498_C18O10_model, 4);
rightPanel({ y0: topRows[1], y1: topRows[2], ydom: [-0.3, 3.0], yMinor: 0.2, yMinorStart: -0.2, yMajor: [0, 1, 2], yLab: [0, 1, 2], iso: "18", trans: "2−1" }, L1498_C18O21_spec, L1498_C18O21_model, 4);
rightPanel({ y0: topRows[2], y1: topRows[3], ydom: [-0.1, 1.2], yMinor: 0.1, yMinorStart: 0, yMajor: [0, 0.5, 1], yLab: [0, 0.5, 1], iso: "17", trans: "1−0" }, L1498_C17O10_spec, L1498_C17O10_model, 4);
rightPanel({ y0: topRows[3], y1: topRows[4], ydom: [-0.1, 1.2], yMinor: 0.1, yMinorStart: 0, yMajor: [0, 0.5, 1], yLab: [0, 0.5, 1], iso: "17", trans: "2−1", xLab: xLabelsRightTop, xPad: 11 }, L1498_C17O21_spec, L1498_C17O21_model, 4);

// ---- bottom group: L1517B ----
leftPanel({ y0: botRows[0], y1: botRows[1], ydom: [-0.1, 2.9], yMinor: 0.2, yMinorStart: 0, yMajor: [0, 1, 2], yLab: [0, 1, 2], iso: "18", trans: "1−0", name: "L1517B" },
  L1517B_C18O10_obs, L1517B_C18O10_fit, L1517B_C18O10_dash);
leftPanel({ y0: botRows[1], y1: botRows[2], ydom: [-0.1, 2.9], yMinor: 0.2, yMinorStart: 0, yMajor: [0, 1, 2], yLab: [0, 1, 2], iso: "18", trans: "2−1" },
  L1517B_C18O21_obs, L1517B_C18O21_fit, L1517B_C18O21_dash);
leftPanel({ y0: botRows[2], y1: botRows[3], ydom: [-0.1, 1.42], yMinor: 0.1, yMinorStart: 0, yMajor: [0, 0.5, 1], yLab: [0, 0.5, 1], iso: "17", trans: "1−0" },
  L1517B_C17O10_obs, L1517B_C17O10_fit, L1517B_C17O10_dash);
leftPanel({ y0: botRows[3], y1: botRows[4], ydom: [-0.1, 1.42], yMinor: 0.1, yMinorStart: 0, yMajor: [0, 0.5, 1], yLab: [0, 0.5, 1], iso: "17", trans: "2−1", xLab: xLabelsLeft, xPad: 7 },
  L1517B_C17O21_obs, L1517B_C17O21_fit, L1517B_C17O21_dash);

rightPanel({ y0: botRows[0], y1: botRows[1], ydom: [-0.27, 3.31], yMinor: 0.2, yMinorStart: -0.2, yMajor: [0, 1, 2, 3], yLab: [0, 1, 2, 3], iso: "18", trans: "1−0" }, L1517B_C18O10_spec, L1517B_C18O10_model, 2);
rightPanel({ y0: botRows[1], y1: botRows[2], ydom: [-0.27, 3.31], yMinor: 0.2, yMinorStart: -0.2, yMajor: [0, 1, 2, 3], yLab: [0, 1, 2, 3], iso: "18", trans: "2−1" }, L1517B_C18O21_spec, L1517B_C18O21_model, 2);
rightPanel({ y0: botRows[2], y1: botRows[3], ydom: [-0.1, 1.2], yMinor: 0.1, yMinorStart: 0, yMajor: [0, 0.5, 1], yLab: [0, 0.5, 1], iso: "17", trans: "1−0" }, L1517B_C17O10_spec, L1517B_C17O10_model, 2);
rightPanel({ y0: botRows[3], y1: botRows[4], ydom: [-0.1, 1.2], yMinor: 0.1, yMinorStart: 0, yMajor: [0, 0.5, 1], yLab: [0, 0.5, 1], iso: "17", trans: "2−1", xLab: xLabelsRightBot, xPad: 7 }, L1517B_C17O21_spec, L1517B_C17O21_model, 2);
</script>
</body></html>
